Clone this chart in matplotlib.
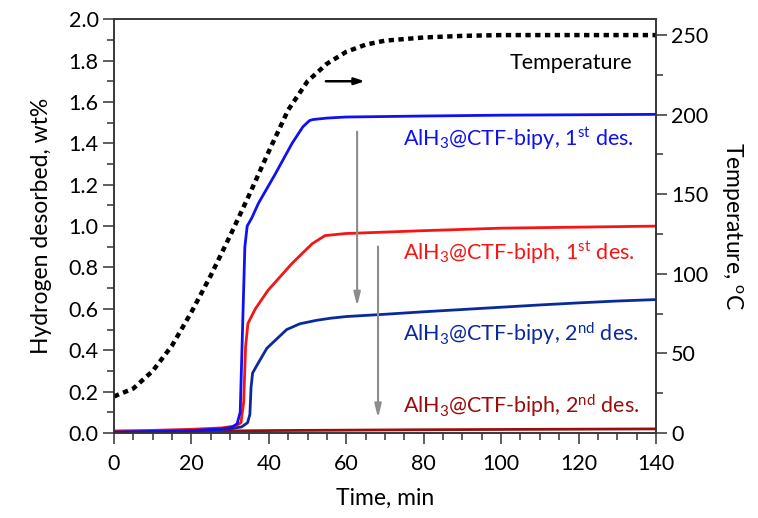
import matplotlib
matplotlib.use("Agg")
import matplotlib.pyplot as plt
import numpy as np

plt.rcParams['font.family'] = ['Lato', 'DejaVu Sans']
plt.rcParams['mathtext.fontset'] = 'custom'
plt.rcParams['mathtext.rm'] = 'Lato'
plt.rcParams['mathtext.it'] = 'Lato:italic'

# temperature profile (right axis), degC vs min
t_temp = [0, 5, 10, 15, 20, 25, 30, 35, 40, 45, 50, 55, 60, 65, 70, 80, 90, 100, 120, 140]
temp = [23, 28, 39, 55, 76, 99, 124, 150, 177, 203, 221, 232, 239.5, 244, 246.5, 248.5, 249.5, 250, 250, 250]

# hydrogen desorbed, wt%
t_bipy1 = [0, 10, 20, 28, 30.5, 31.8, 32.6, 33.2, 33.8, 34.4, 35.6, 37.3, 41.6, 46, 48.8, 50.5, 51.4, 55, 59.7, 80, 100, 140]
h_bipy1 = [0.005, 0.008, 0.012, 0.02, 0.028, 0.045, 0.1, 0.5, 0.9, 1.0, 1.04, 1.11, 1.25, 1.40, 1.48, 1.51, 1.515, 1.522, 1.527, 1.532, 1.536, 1.54]

t_biph1 = [0, 10, 20, 28, 31.5, 32.8, 33.5, 34.0, 34.6, 36.5, 39.8, 46, 51.2, 54.5, 59.7, 80, 100, 140]
h_biph1 = [0.01, 0.013, 0.018, 0.025, 0.035, 0.05, 0.15, 0.42, 0.53, 0.6, 0.69, 0.82, 0.915, 0.954, 0.964, 0.978, 0.99, 1.0]

t_bipy2 = [0, 10, 20, 30, 33, 34.5, 35.1, 35.4, 35.8, 37, 39.5, 44.6, 48, 52.4, 56, 60, 70, 80, 90, 100, 110, 120, 130, 140]
h_bipy2 = [0.005, 0.006, 0.01, 0.02, 0.03, 0.05, 0.09, 0.22, 0.29, 0.33, 0.41, 0.50, 0.528, 0.545, 0.555, 0.563, 0.574, 0.586, 0.597, 0.608, 0.619, 0.629, 0.638, 0.645]

t_biph2 = [0, 40, 80, 140]
h_biph2 = [0.005, 0.012, 0.016, 0.02]

labels = ["AlH$_3$@CTF-bipy, 1$^{\\rm st}$ des.",
          "AlH$_3$@CTF-biph, 1$^{\\rm st}$ des.",
          "AlH$_3$@CTF-bipy, 2$^{\\rm nd}$ des.",
          "AlH$_3$@CTF-biph, 2$^{\\rm nd}$ des."]
label_y = [1.42, 0.87, 0.48, 0.135]
colors = ['#1010f5', '#f51515', '#0a2a9c', '#9a0d0d']

fig = plt.figure(figsize=(7.58, 5.18), dpi=100)
ax = fig.add_axes([0.1504, 0.164, 0.7150, 0.799])
ax2 = ax.twinx()

series = [(t_bipy1, h_bipy1), (t_biph1, h_biph1), (t_bipy2, h_bipy2), (t_biph2, h_biph2)]
for (tt, hh), col in zip(series[::-1], colors[::-1]):
    ax.plot(tt, hh, color=col, lw=2.0, solid_capstyle='round', solid_joinstyle='round')

ax2.plot(t_temp, temp, color='black', lw=3.2, linestyle=(0, (1.2, 1.0)))

for lab, yy, col in zip(labels, label_y, colors):
    ax.text(74.7, yy, lab, color=col, fontsize=15.5, ha='left', va='center')

ax.text(133.8, 1.79, "Temperature", fontsize=15.5, ha='right', va='center')
ax.annotate("", xy=(65.5, 1.70), xytext=(54, 1.70),
            arrowprops=dict(arrowstyle='-|>,head_length=0.6,head_width=0.2', color='black', lw=1.8))

# grey arrows
ax.annotate("", xy=(62.8, 0.60), xytext=(62.8, 1.47),
            arrowprops=dict(arrowstyle='-|>,head_length=0.8,head_width=0.2', color='#8c8c8c', lw=1.5))
ax.annotate("", xy=(68.2, 0.06), xytext=(68.2, 0.915),
            arrowprops=dict(arrowstyle='-|>,head_length=0.8,head_width=0.2', color='#8c8c8c', lw=1.5))

ax.set_xlim(0, 140)
ax.set_ylim(0, 2.0)
ax2.set_ylim(0, 260)
ax.set_xticks(np.arange(0, 141, 20))
ax.set_xticks(np.arange(0, 141, 5), minor=True)
ax.set_yticks(np.arange(0, 2.01, 0.2))
ax.set_yticks(np.arange(0, 2.01, 0.1), minor=True)
ax.set_yticklabels([f"{v:.1f}" for v in np.arange(0, 2.01, 0.2)])
ax2.set_yticks(np.arange(0, 251, 50))
ax2.set_yticks(np.arange(0, 251, 25), minor=True)

for a in (ax, ax2):
    a.tick_params(which='major', direction='out', length=8, width=1.1, labelsize=15.5, color='#333333')
    a.tick_params(which='minor', direction='out', length=5, width=1.1, color='#333333')
    for s in a.spines.values():
        s.set_linewidth(1.1)
        s.set_color('#333333')
ax.tick_params(axis='x', pad=7)
ax.tick_params(axis='y', pad=3)
ax2.tick_params(axis='y', pad=3)

ax.set_xlabel("Time, min", fontsize=16.5, labelpad=10)
ax.set_ylabel("Hydrogen desorbed, wt%", fontsize=16.5, labelpad=12)
ax2.set_ylabel("Temperature, $^{\\rm o}$C", fontsize=16.5, rotation=270, labelpad=26)

fig.savefig("out.png", dpi=100)
